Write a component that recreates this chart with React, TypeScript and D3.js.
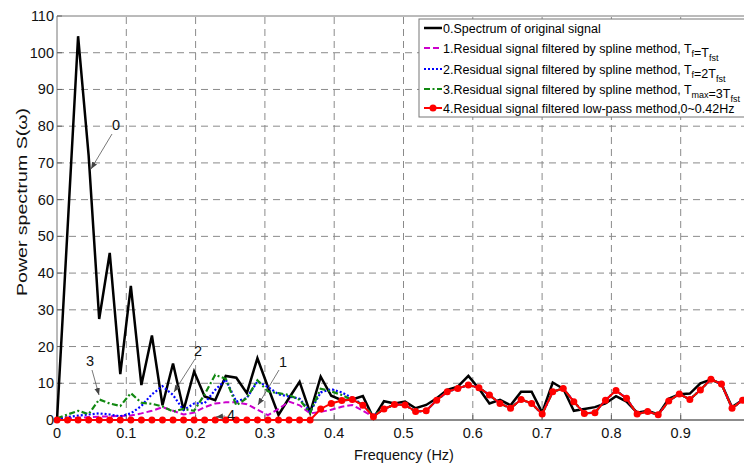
import React from 'react'
import { scaleLinear, line } from 'd3'

// frequency step between spectrum samples (Hz)
const DF = 0.01522

// 0. spectrum of original signal
const spectrum = [
  0, 52, 104.5, 72, 27.5, 45.5, 12.5, 36.5, 9.5, 23,
  4, 15.4, 2.7, 13.2, 6.4, 5.4, 12, 11.5, 7.3, 16.8,
  9, 1.4, 6, 10.4, 2, 11.8, 6.6, 5.4, 5.6, 6.5,
  0.5, 5.1, 4.5, 5, 3.2, 4.1, 5.9, 8.2, 9.1, 12,
  8.6, 4.5, 5.5, 4, 7.7, 7.7, 2, 10.2, 8.5, 2.5,
  3, 3.5, 4.5, 6.5, 5, 2, 2.5, 1.5, 5.8, 7,
  7.2, 10, 11, 9.8, 3.5, 5.4,
]

// 4. low-pass residual: zero up to k=24, then these
const lowpassZeros = [
  0, 0, 0, 0, 0, 0, 0, 0, 0, 0, 0, 0, 0, 0, 0, 0, 0, 0, 0, 0, 0, 0, 0, 0, 0,
]
const lowpassTail = [
  3, 4.5, 5.3, 5.6, 4, 0.9, 3, 4.2, 4.1, 2.3,
  2.5, 5.4, 7.7, 8.6, 9.5, 8.8, 6.8, 4.5, 3.2, 5.6,
  4.5, 1.6, 7.7, 8.6, 5, 1.8, 2, 5.4, 8, 5.9,
  1.6, 2.3, 1.4, 5.2, 7.1, 5.6, 8.2, 11.1, 9.8, 3.2,
  5.4,
]
const lowpass = [...lowpassZeros, ...lowpassTail]

// spline residuals k=0..30, they follow the low-pass curve after that
const spline1Low = [
  0.2, 0.4, 0.6, 0.8, 0.9, 1, 1.1, 1.2, 1.8, 2.5,
  3.5, 2.5, 1.5, 2, 3.5, 4.5, 4.8, 4.8, 4.3, 2.8,
  1.3, 3, 5, 4, 1.8, 2.2, 2.8, 3.6, 4.1, 2.5, 0.9,
]
const spline2Low = [
  0.3, 0.8, 1.2, 1.5, 1.8, 1.5, 1, 1.8, 3.8, 7,
  9.2, 6.8, 2.7, 4.5, 4.6, 8.2, 11, 5, 6, 10.5,
  9, 7, 6.4, 5.8, 2.2, 7.5, 8.4, 7.5, 6, 4.2, 1.2,
]
const spline3Low = [
  0.5, 1.5, 2.5, 1.6, 5.6, 4.5, 3.8, 7.3, 4.7, 4.4,
  3.7, 2.3, 3, 2.5, 7, 12.3, 11.2, 4, 6, 10.8,
  7.8, 7.3, 6.8, 5.5, 2, 8.5, 7.8, 6.8, 5.5, 4.2, 1.2,
]
const tailFrom31 = lowpass.slice(31)
const spline1 = [...spline1Low, ...tailFrom31]
const spline2 = [...spline2Low, ...tailFrom31]
const spline3 = [...spline3Low, ...tailFrom31]

const xTicks = [0, 0.1, 0.2, 0.3, 0.4, 0.5, 0.6, 0.7, 0.8, 0.9, 1]
const xTickLabels = ['0', '0.1', '0.2', '0.3', '0.4', '0.5', '0.6', '0.7', '0.8', '0.9']
const yTicks = [0, 10, 20, 30, 40, 50, 60, 70, 80, 90, 100, 110]

const W = 744
const H = 467
const FONT = 'Liberation Sans, Arial, Helvetica, sans-serif'

const x = scaleLinear().domain([0, 1]).range([57, 750])
const y = scaleLinear().domain([0, 110]).range([420, 16])

const toPath = (vals: number[]) =>
  line<number>()
    .x((d, i) => x(i * DF))
    .y(d => y(d))(vals) as string

function Arrow(props: { x1: number; y1: number; x2: number; y2: number }) {
  const { x1, y1, x2, y2 } = props
  return <line x1={x1} y1={y1} x2={x2} y2={y2} stroke="#555" strokeWidth={0.8} markerEnd="url(#arr)" />
}

function Legend() {
  const lx = 419
  const rows = [28, 48, 69, 89, 108]
  const fs = 12.5
  const sub = (t: string) => (
    <>
      <tspan dy={4} fontSize={9}>{t}</tspan>
      <tspan dy={-4}></tspan>
    </>
  )
  return (
    <g fontFamily={FONT} fontSize={fs}>
      <rect x={lx} y={19} width={360} height={98} fill="white" stroke="#777" strokeWidth={1} />
      <line x1={424} x2={442} y1={rows[0]} y2={rows[0]} stroke="black" strokeWidth={2.5} />
      <line x1={424} x2={442} y1={rows[1]} y2={rows[1]} stroke="#cc00cc" strokeWidth={2} strokeDasharray="6,3" />
      <line x1={424} x2={442} y1={rows[2]} y2={rows[2]} stroke="#0000ff" strokeWidth={2.2} strokeDasharray="2,2" />
      <line x1={424} x2={442} y1={rows[3]} y2={rows[3]} stroke="#118811" strokeWidth={2.2} strokeDasharray="6,2.5,2,2.5" />
      <line x1={424} x2={442} y1={rows[4]} y2={rows[4]} stroke="#ff0000" strokeWidth={2} />
      <circle cx={433} cy={rows[4]} r={3.5} fill="#ff0000" />
      <text x={443} y={rows[0] + 4.5}>0.Spectrum of original signal</text>
      <text x={443} y={rows[1] + 4.5}>
        1.Residual signal filtered by spline method, T{sub('f')}=T{sub('fst')}
      </text>
      <text x={443} y={rows[2] + 4.5}>
        2.Residual signal filtered by spline method, T{sub('f')}=2T{sub('fst')}
      </text>
      <text x={443} y={rows[3] + 4.5}>
        3.Residual signal filtered by spline method, T{sub('max')}=3T{sub('fst')}
      </text>
      <text x={443} y={rows[4] + 4.5}>4.Residual signal filtered low-pass method,0~0.42Hz</text>
    </g>
  )
}

export default function App() {
  return (
    <svg width={W} height={H} style={{ position: 'absolute', left: 0, top: 0, background: 'white' }}>
      <defs>
        <marker id="arr" viewBox="0 0 10 10" refX={10} refY={5} markerWidth={7} markerHeight={7} orient="auto-start-reverse" markerUnits="userSpaceOnUse">
          <path d="M0,1 L10,5 L0,9 z" fill="#444" />
        </marker>
      </defs>
      <rect width={W} height={H} fill="white" />

      {/* grid */}
      <g stroke="#8a8a8a" strokeWidth={1} strokeDasharray="7,5">
        {yTicks.filter(t => t > 0 && t < 110).map(t => (
          <line key={'gy' + t} x1={x(0)} x2={x(1)} y1={y(t)} y2={y(t)} />
        ))}
        {xTicks.filter(t => t > 0).map(t => (
          <line key={'gx' + t} x1={x(t)} x2={x(t)} y1={y(0)} y2={y(110)} />
        ))}
      </g>

      {/* frame */}
      <line x1={x(0)} x2={x(1)} y1={y(110)} y2={y(110)} stroke="#777" strokeWidth={1} />
      <line x1={x(0)} x2={x(0)} y1={y(0)} y2={y(110)} stroke="#777" strokeWidth={1} />
      <line x1={x(0)} x2={x(1)} y1={y(0)} y2={y(0)} stroke="#666" strokeWidth={1.5} />
      <g stroke="#666" strokeWidth={1}>
        {xTicks.map(t => (
          <line key={'tx' + t} x1={x(t)} x2={x(t)} y1={y(0)} y2={y(0) - 5} />
        ))}
        {yTicks.map(t => (
          <line key={'ty' + t} x1={x(0)} x2={x(0) + 5} y1={y(t)} y2={y(t)} />
        ))}
      </g>

      {/* series */}
      <path d={toPath(spectrum)} fill="none" stroke="black" strokeWidth={2.5} strokeLinejoin="miter" />
      <path d={toPath(spline1)} fill="none" stroke="#cc00cc" strokeWidth={2} strokeDasharray="6,3" />
      <path d={toPath(spline2)} fill="none" stroke="#0000ff" strokeWidth={2.2} strokeDasharray="2,2" />
      <path d={toPath(spline3)} fill="none" stroke="#118811" strokeWidth={2.2} strokeDasharray="6,2.5,2,2.5" />
      <path d={toPath(lowpass)} fill="none" stroke="#ff0000" strokeWidth={2} />
      <g fill="#ff0000">
        {lowpass.map((d, i) => (
          <circle key={'m' + i} cx={x(i * DF)} cy={y(d)} r={3.5} />
        ))}
      </g>

      {/* annotations */}
      <g fontFamily={FONT} fontSize={14.5} fill="#111">
        <text x={116} y={126} textAnchor="middle" dominantBaseline="middle">0</text>
        <text x={90} y={362} textAnchor="middle" dominantBaseline="middle">3</text>
        <text x={198} y={352} textAnchor="middle" dominantBaseline="middle">2</text>
        <text x={283} y={363} textAnchor="middle" dominantBaseline="middle">1</text>
        <text x={231} y={416} textAnchor="middle" dominantBaseline="middle">4</text>
      </g>
      <Arrow x1={112} y1={134} x2={91} y2={169} />
      <Arrow x1={92} y1={370} x2={99} y2={395} />
      <Arrow x1={195} y1={359} x2={174} y2={392} />
      <Arrow x1={279} y1={370} x2={258} y2={405} />
      <Arrow x1={225} y1={416} x2={216} y2={417} />

      {/* tick labels */}
      <g fontFamily={FONT} fontSize={14.5} fill="#111">
        {yTicks.map(t => (
          <text key={'ly' + t} x={54} y={y(t)} textAnchor="end" dominantBaseline="central">{t}</text>
        ))}
        {xTickLabels.map((lab, i) => (
          <text key={'lx' + lab} x={x(xTicks[i])} y={438} textAnchor="middle">{lab}</text>
        ))}
      </g>

      {/* axis titles */}
      <text x={404} y={460} textAnchor="middle" fontFamily={FONT} fontSize={14.5} fill="#111">Frequency (Hz)</text>
      <text
        transform="translate(27,202) rotate(-90)"
        textAnchor="middle"
        fontFamily={FONT}
        fontSize={14.5}
        textLength={188}
        lengthAdjust="spacingAndGlyphs"
        fill="#111"
      >
        Power spectrum S(ω)
      </text>

      <Legend />
    </svg>
  )
}
